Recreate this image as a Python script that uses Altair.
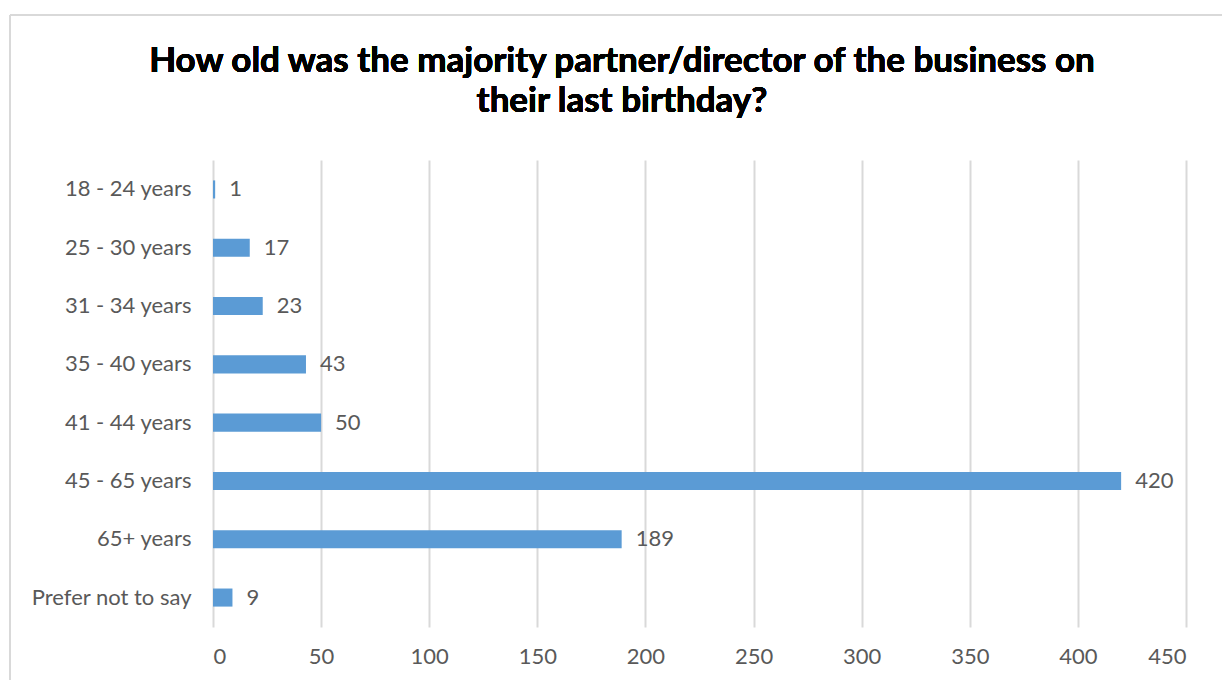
import altair as alt
import pandas as pd

categories = ["18 - 24 years", "25 - 30 years", "31 - 34 years", "35 - 40 years",
              "41 - 44 years", "45 - 65 years", "65+ years", "Prefer not to say"]
counts = [1, 17, 23, 43, 50, 420, 189, 9]
x_ticks = [0, 50, 100, 150, 200, 250, 300, 350, 400, 450]
title_lines = ["How old was the majority partner/director of the business on",
               "their last birthday?"]

df = pd.DataFrame({"age": categories, "count": counts})

FONT = "Lato"
TXT = "#595959"
FS = 22

y_enc = alt.Y("age:N", sort=categories, title=None,
              scale=alt.Scale(paddingInner=0.69, paddingOuter=0.35),
              axis=alt.Axis(labelFontSize=FS, labelColor=TXT, labelFont=FONT,
                            labelPadding=22, ticks=False, domain=False, grid=False))
x_enc = alt.X("count:Q", title=None,
              scale=alt.Scale(domain=[0, 450], nice=False),
              axis=alt.Axis(values=x_ticks, labelFontSize=FS, labelColor=TXT, labelFont=FONT,
                            labelPadding=19, ticks=False, domain=False, grid=True,
                            gridColor="#d9d9d9", gridWidth=2))

bars = alt.Chart(df).mark_bar(color="#5B9BD5").encode(x=x_enc, y=y_enc)
labels = alt.Chart(df).mark_text(align="left", baseline="middle", dx=14, fontSize=FS,
                                 font=FONT, color=TXT).encode(
    x="count:Q", y=alt.Y("age:N", sort=categories), text="count:Q")

border = alt.Chart(df).mark_rule(color="#d9d9d9", strokeWidth=2).encode(
    x=alt.value(-203), x2=alt.value(1100), y=alt.value(-145))
border2 = alt.Chart(df).mark_rule(color="#d9d9d9", strokeWidth=2).encode(
    x=alt.value(-203), y=alt.value(-145), y2=alt.value(600))

t1 = alt.Chart(df).mark_text(font=FONT, fontSize=35, fontWeight="bold", color="#000000",
                             align="center", baseline="middle").encode(
    x=alt.value(409), y=alt.value(-99), text=alt.value(title_lines[0]))
t2 = alt.Chart(df).mark_text(font=FONT, fontSize=35, fontWeight="bold", color="#000000",
                             align="center", baseline="middle").encode(
    x=alt.value(409), y=alt.value(-59), text=alt.value(title_lines[1]))

chart = alt.layer(border, border2, bars, labels, t1, t2).properties(
    width=973, height=467,
    autosize=alt.AutoSizeParams(type="none"),
    padding={"left": 213, "top": 160, "right": 36, "bottom": 53},
).configure_view(strokeWidth=0)

chart.save("out.html", embed_options={"renderer": "svg", "actions": False})
